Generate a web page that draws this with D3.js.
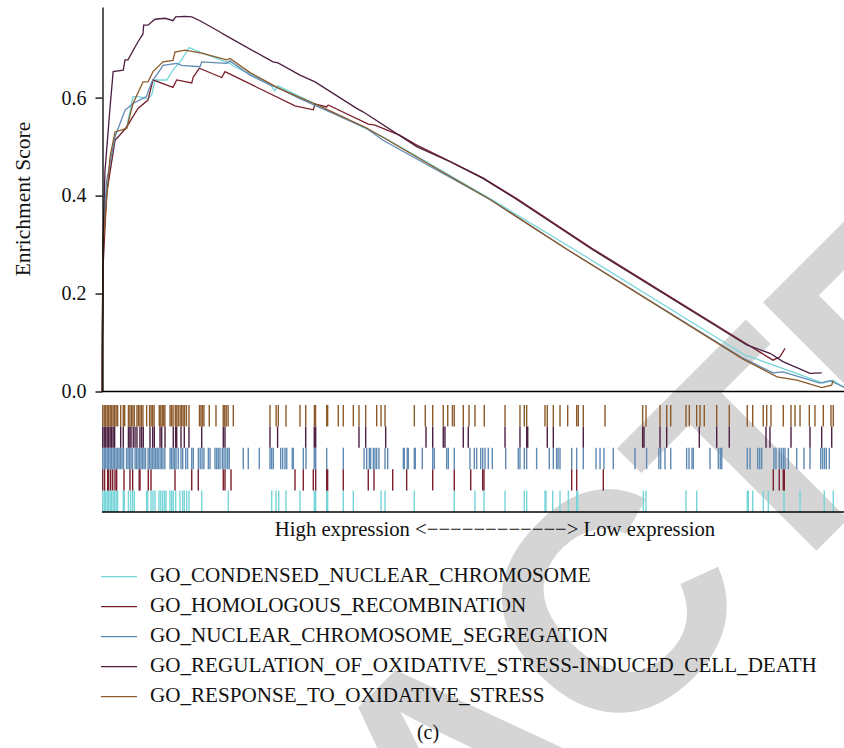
<!DOCTYPE html>
<html lang="en">
<head>
  <meta charset="UTF-8" />
  <title>GSEA enrichment plot</title>
  <style>
    body { margin: 0; background: #fff; }
    svg { display: block; }
  </style>
</head>
<body>
  <svg width="844" height="748"></svg>

  <script src="https://d3js.org/d3.v7.min.js"></script>
  <script>
    // gene sets, in legend order
    const setNames = [
      'GO_CONDENSED_NUCLEAR_CHROMOSOME',
      'GO_HOMOLOGOUS_RECOMBINATION',
      'GO_NUCLEAR_CHROMOSOME_SEGREGATION',
      'GO_REGULATION_OF_OXIDATIVE_STRESS-INDUCED_CELL_DEATH',
      'GO_RESPONSE_TO_OXIDATIVE_STRESS'
    ];
    const setColors = ['#76d5d9', '#7a1f2d', '#5e8ab4', '#4b1f40', '#8c5a2a'];

    // running enrichment score: [position in ranked list (%), ES]
    const esCondensed = [[0,0],[0.13,0.25],[0.4,0.39],[1.75,0.513],[3.32,0.54],[4.17,0.602],[4.84,0.602],[6.18,0.598],[6.68,0.605],[7.12,0.636],[8.7,0.636],[9.54,0.656],[10.7,0.677],[11.7,0.702],[13.17,0.693],[17.2,0.67],[17.6,0.665],[22.58,0.628],[23.2,0.614],[23.66,0.624],[26.61,0.602],[37.77,0.52],[52.15,0.394],[63.58,0.289],[86.65,0.072],[87.1,0.071],[92.03,0.044],[96.91,0.017],[98.25,0.023],[99.73,0.008]];
    const esHomologous = [[0,0],[0.13,0.25],[0.63,0.404],[1.75,0.513],[2.19,0.52],[3.32,0.54],[3.99,0.557],[4.84,0.578],[6.18,0.595],[6.85,0.636],[9.54,0.621],[10.04,0.636],[12.06,0.63],[12.27,0.642],[13.08,0.66],[16.09,0.641],[16.53,0.653],[25.94,0.583],[28.4,0.575],[28.63,0.587],[30.2,0.581],[30.4,0.585],[35.8,0.546],[36.7,0.544],[40.05,0.523],[42.3,0.503],[46.77,0.47],[51.2,0.436],[55.74,0.394],[66.0,0.291],[86.65,0.097],[90.19,0.064],[91.13,0.071],[91.8,0.088]];
    const esNuclear = [[0,0],[0.13,0.3],[0.63,0.43],[1.75,0.52],[3.09,0.574],[4.17,0.588],[5.96,0.602],[6.68,0.632],[7.8,0.656],[8.2,0.666],[10.04,0.67],[10.7,0.666],[13.17,0.663],[13.4,0.673],[16.76,0.67],[17.2,0.675],[19.9,0.646],[22.58,0.626],[23.66,0.62],[26.61,0.598],[35.58,0.537],[37.77,0.513],[52.15,0.392],[62.63,0.289],[86.16,0.068],[90.19,0.038],[91.53,0.04],[96.5,0.017],[97.85,0.022],[99.73,0.009]];
    const esRegulation = [[0,0],[0.13,0.3],[0.4,0.45],[1.08,0.58],[1.5,0.653],[2.86,0.656],[3.09,0.677],[3.49,0.677],[4.84,0.714],[5.51,0.73],[5.6,0.748],[6.18,0.748],[7.12,0.76],[8.5,0.762],[9.54,0.757],[9.9,0.765],[11.16,0.766],[12.06,0.765],[13.17,0.757],[15.86,0.734],[16.26,0.73],[22.98,0.673],[23.66,0.671],[26.61,0.646],[28.63,0.632],[34.23,0.578],[35.08,0.571],[42.3,0.5],[46.77,0.469],[51.2,0.435],[55.74,0.392],[66.0,0.289],[86.65,0.095],[89.78,0.078],[91.53,0.061],[95.16,0.037],[96.73,0.038]];
    const esResponse = [[0,0],[0.13,0.3],[1.08,0.479],[1.75,0.53],[3.32,0.537],[4.17,0.588],[5.51,0.632],[6.18,0.632],[6.85,0.653],[8.2,0.673],[9.54,0.676],[9.8,0.693],[11.16,0.697],[13.4,0.691],[16.76,0.677],[17.2,0.68],[19.9,0.651],[23.66,0.62],[26.61,0.6],[28.86,0.586],[30.65,0.573],[35.58,0.538],[52.15,0.392],[62.63,0.289],[86.16,0.066],[90.73,0.03],[93.41,0.023],[96.73,0.008],[98.08,0.013],[98.25,0.022]];

    // positions of gene-set members in the ranked list (%)
    const hitsCondensed = [0.1,0.3,0.5,0.7,0.9,1.1,1.3,1.5,1.7,1.9,2.1,2.86,3.0,3.55,3.85,4.12,4.35,6.0,6.14,6.59,6.85,7.12,7.66,7.9,8.15,8.4,8.6,9.14,9.37,9.58,9.9,10.48,10.84,11.06,11.38,11.69,13.4,16.98,22.81,23.39,23.75,24.73,26.61,28.53,28.72,30.2,30.33,32.43,33.78,37.5,38.04,41.98,47.35,50.13,51.34,54.17,56.76,57.08,59.54,59.68,60.58,61.56,62.68,63.8,63.93,72.76,73.12,78.49,79.93,86.73,86.87,87.46,88.88,89.56,91.67,93.82,97.08,98.29];
    const hitsHomologous = [0.1,0.35,0.76,0.9,1.17,1.44,1.75,1.97,2.96,3.76,4.12,5.0,5.11,6.22,6.59,9.81,12.06,12.94,16.3,16.53,17.34,25.94,27.06,28.4,28.72,30.2,30.33,32.43,35.79,36.56,39.07,40.95,44.45,47.35,49.56,51.17,51.34,63.13,63.8,67.38,90.23,91.03,91.57,91.71];
    const hitsNuclear = [0.1,0.3,0.5,0.7,0.9,1.1,1.3,1.5,1.7,1.9,2.1,2.3,2.5,2.7,2.9,3.3,3.5,3.7,3.9,4.1,4.45,4.65,4.85,5.05,5.25,5.45,5.65,5.85,6.2,6.4,6.6,6.8,7.0,7.2,7.4,7.55,7.8,8.0,8.2,8.45,9.15,9.35,9.55,9.75,9.95,10.25,10.62,10.85,11.25,11.5,12.06,12.27,12.95,13.2,13.45,13.7,14.29,14.52,15.19,15.42,15.63,15.86,16.17,16.4,16.65,16.9,17.1,18.99,19.66,21.14,22.58,22.8,23.02,24.02,24.29,24.6,24.83,25.58,25.71,27.06,27.42,28.53,28.72,30.2,32.43,35.22,35.58,35.93,36.11,36.47,36.69,36.92,37.23,38.04,38.4,40.5,40.63,41.03,41.17,41.98,42.11,43.05,44.45,44.66,46.33,46.55,47.35,49.46,50.04,50.36,50.9,51.17,51.48,51.92,52.46,54.26,55.95,56.18,56.76,57.08,58.42,60.12,60.66,61.1,61.3,61.56,63.13,63.8,64.69,66.4,66.94,67.47,68.72,71.64,73.2,74.85,75.09,75.67,76.44,78.58,78.9,79.3,79.48,81.72,82.84,83.1,83.3,86.73,87.1,88.13,88.4,88.67,90.32,90.59,91.03,91.3,91.57,91.8,92.25,93.37,94.35,95.16,96.6,96.85,97.1,97.35,97.76];
    const hitsRegulation = [0.1,0.3,0.5,0.7,0.9,1.1,1.3,1.5,1.7,2.51,2.86,3.55,3.75,3.9,4.2,4.44,4.7,5.1,5.33,5.55,6.45,6.81,7.03,7.8,8.02,8.47,9.58,9.9,10.04,10.62,11.06,11.69,13.4,16.3,16.53,22.58,23.6,27.38,28.53,28.72,34.54,35.44,38.13,43.55,44.45,45.87,46.1,48.56,49.23,54.17,56.18,57.08,57.22,59.85,60.66,64.69,72.67,72.85,75.0,75.9,80.28,82.62,84.31,89.25,89.78,92.61,95.16,96.73,98.08];
    const hitsResponse = [0.1,0.3,0.5,0.7,0.9,1.1,1.3,1.5,1.7,1.9,2.1,2.51,2.86,3.05,3.55,3.75,3.95,4.15,4.35,4.7,4.9,5.1,5.3,5.5,6.0,6.4,6.6,6.8,7.0,7.7,7.9,8.1,8.3,8.45,9.15,9.35,9.55,9.85,10.05,10.25,10.5,10.7,10.9,11.1,11.35,11.69,13.1,13.3,13.5,13.7,14.42,15.32,16.3,16.5,16.7,16.95,17.65,22.58,23.4,23.7,24.73,26.61,27.38,28.55,28.7,30.2,30.33,31.76,32.43,33.78,34.54,35.44,36.92,37.5,38.04,41.98,43.45,44.45,45.87,46.47,47.1,47.35,48.56,49.33,50.13,51.38,54.17,56.18,56.76,57.08,59.54,59.85,60.66,61.56,62.59,63.8,64.02,64.69,67.61,72.67,73.12,75.0,75.9,76.44,78.49,78.94,79.93,80.38,80.95,82.62,84.31,86.73,87.46,88.88,89.34,89.92,91.57,92.61,93.15,93.82,95.07,95.83,96.95,97.98,98.29];

    const yTicks = [0, 0.2, 0.4, 0.6];
    const xTitle = 'High expression <\u2212\u2212\u2212\u2212\u2212\u2212\u2212\u2212\u2212\u2212\u2212\u2212> Low expression';
    const panelTag = '(c)';
    const watermark = 'RETRACTED';

    const esData = [esCondensed, esHomologous, esNuclear, esRegulation, esResponse];
    const hitData = [hitsCondensed, hitsHomologous, hitsNuclear, hitsRegulation, hitsResponse];

    const svg = d3.select('svg');
    const serifText = (sel, size) => sel
      .style('font-family', 'Liberation Serif')
      .style('font-size', size + 'px')
      .attr('fill', '#111');

    // watermark behind everything
    const wm = svg.append('g');
    const wt = wm.append('text')
      .text(watermark)
      .style('font-family', 'Liberation Sans')
      .style('font-weight', 'bold')
      .style('font-size', '310px')
      .attr('fill', '#d5d5d5');
    const ext = wt.node().getExtentOfChar(5);
    wm.attr('transform', 'translate(610,605) rotate(-45) translate(' +
      (-(ext.x + ext.width / 2)) + ',' + (-(ext.y + ext.height / 2)) + ')');

    const x = d3.scaleLinear().domain([0, 100]).range([102, 846]);
    const y = d3.scaleLinear().domain([0, 0.785]).range([391.5, 7]);

    // running sum curves
    const line = d3.line().x(d => x(d[0])).y(d => y(d[1]));
    svg.append('g').selectAll('path')
      .data(esData)
      .enter().append('path')
      .attr('d', line)
      .attr('fill', 'none')
      .attr('stroke', (d, i) => setColors[i])
      .attr('stroke-width', 1.3);

    // y axis
    const yAxis = svg.append('g')
      .attr('transform', 'translate(102.5,0)')
      .call(d3.axisLeft(y).tickValues(yTicks).tickFormat(d3.format('.1f'))
        .tickSize(7).tickSizeOuter(0).tickPadding(9));
    yAxis.selectAll('path, line').attr('stroke', '#000').attr('stroke-width', 1.3);
    serifText(yAxis.selectAll('text'), 20);

    // baseline at ES = 0
    svg.append('line')
      .attr('x1', 102).attr('x2', 844)
      .attr('y1', y(0)).attr('y2', y(0))
      .attr('stroke', '#000').attr('stroke-width', 1.3);

    serifText(svg.append('text'), 21.5)
      .attr('transform', 'translate(30,199) rotate(-90)')
      .attr('text-anchor', 'middle')
      .text('Enrichment Score');

    // hit rug, one row per set, last set on top
    const rows = d3.scaleBand().domain([4, 3, 2, 1, 0]).range([405, 512]);
    hitData.forEach((hits, i) => {
      svg.append('g').selectAll('line')
        .data(hits)
        .enter().append('line')
        .attr('x1', d => x(d)).attr('x2', d => x(d))
        .attr('y1', rows(i)).attr('y2', rows(i) + rows.bandwidth())
        .attr('stroke', setColors[i])
        .attr('stroke-width', 1.4);
    });
    svg.append('line')
      .attr('x1', 102).attr('x2', 844)
      .attr('y1', 512).attr('y2', 512)
      .attr('stroke', '#000').attr('stroke-width', 1.3);

    serifText(svg.append('text'), 20.7)
      .attr('x', 495).attr('y', 536)
      .attr('text-anchor', 'middle')
      .text(xTitle);

    // legend
    const leg = svg.append('g').selectAll('g')
      .data(setNames)
      .enter().append('g')
      .attr('transform', (d, i) => 'translate(0,' + (581.7 + i * 30) + ')');
    leg.append('line')
      .attr('x1', 101).attr('x2', 137)
      .attr('y1', -5).attr('y2', -5)
      .attr('stroke', (d, i) => setColors[i])
      .attr('stroke-width', 1.3);
    serifText(leg.append('text'), 21.1)
      .attr('x', 150)
      .text(d => d);

    serifText(svg.append('text'), 20)
      .attr('x', 428).attr('y', 739)
      .attr('text-anchor', 'middle')
      .text(panelTag);
  </script>
</body>
</html>
